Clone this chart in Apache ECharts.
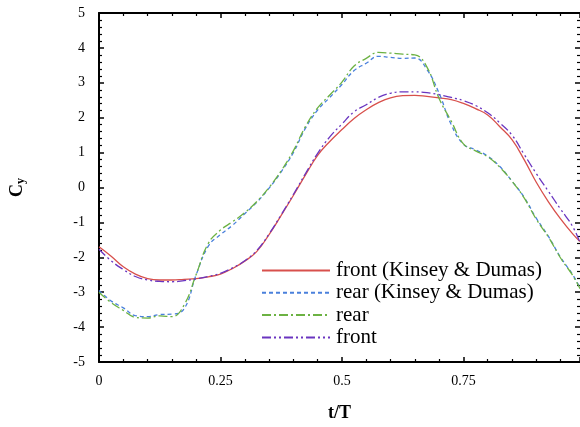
<!DOCTYPE html>
<html>
<head>
<meta charset="utf-8">
<script src="https://cdn.jsdelivr.net/npm/echarts@6/dist/echarts.min.js"></script>
<style>
  html, body { margin: 0; padding: 0; background: #fff; }
  #chart { width: 580px; height: 427px; }
</style>
</head>
<body>
<div id="chart"></div>
<script>
// t/T sample positions shared by all curves
const tValues = [0, 0.025, 0.05, 0.075, 0.1, 0.125, 0.15, 0.175, 0.2, 0.225,
  0.25, 0.275, 0.3, 0.325, 0.35, 0.375, 0.4, 0.425, 0.45, 0.475,
  0.5, 0.525, 0.55, 0.575, 0.6, 0.625, 0.65, 0.675, 0.7, 0.725,
  0.75, 0.775, 0.8, 0.825, 0.85, 0.875, 0.9, 0.925, 0.95, 0.975, 0.99];

const frontKD = [-1.70, -1.97, -2.27, -2.48, -2.61, -2.65, -2.65, -2.63, -2.61, -2.56,
  -2.48, -2.32, -2.11, -1.83, -1.35, -0.80, -0.23, 0.36, 0.92, 1.32,
  1.66, 1.98, 2.23, 2.43, 2.57, 2.63, 2.64, 2.61, 2.57, 2.52,
  2.41, 2.26, 2.08, 1.74, 1.37, 0.80, 0.15, -0.41, -0.90, -1.33, -1.55];

const rearKD = [-2.95, -3.25, -3.45, -3.67, -3.70, -3.64, -3.63, -3.48, -2.50, -1.68,
  -1.35, -1.08, -0.75, -0.42, -0.02, 0.45, 1.00, 1.70, 2.22, 2.58,
  2.95, 3.35, 3.56, 3.76, 3.73, 3.70, 3.71, 3.38, 2.70, 1.80,
  1.24, 1.08, 0.90, 0.60, 0.18, -0.28, -0.88, -1.40, -2.00, -2.50, -2.88];

const rear = [-3.00, -3.30, -3.52, -3.72, -3.74, -3.68, -3.70, -3.37, -2.49, -1.60,
  -1.22, -0.98, -0.72, -0.40, 0.00, 0.48, 1.05, 1.75, 2.28, 2.65,
  3.02, 3.48, 3.70, 3.87, 3.85, 3.82, 3.80, 3.45, 2.55, 1.90,
  1.25, 1.05, 0.88, 0.58, 0.18, -0.30, -0.91, -1.42, -2.02, -2.52, -2.90];

const front = [-1.77, -2.10, -2.35, -2.55, -2.65, -2.69, -2.70, -2.67, -2.62, -2.55,
  -2.46, -2.30, -2.10, -1.80, -1.33, -0.78, -0.20, 0.40, 0.98, 1.45,
  1.82, 2.17, 2.37, 2.58, 2.70, 2.74, 2.74, 2.72, 2.66, 2.58,
  2.49, 2.35, 2.14, 1.85, 1.50, 0.95, 0.40, -0.11, -0.62, -1.12, -1.58];

const seriesNames = ['front (Kinsey & Dumas)', 'rear (Kinsey & Dumas)', 'rear', 'front'];
const xTicks = [0, 0.25, 0.5, 0.75];

const serif = '"Liberation Serif", "Times New Roman", serif';

function pairs(vals) {
  return tValues.map((t, i) => [t, vals[i]]);
}

function lineSeries(name, vals, color, dash) {
  return {
    name: name,
    type: 'line',
    data: pairs(vals),
    smooth: 0.45,
    symbol: 'none',
    clip: true,
    itemStyle: { color: color },
    lineStyle: { color: color, width: 1.3, type: dash }
  };
}

const axisCommon = {
  type: 'value',
  axisLine: { show: true, onZero: false, lineStyle: { color: '#000', width: 2 } },
  axisTick: { show: true, inside: true, length: 5, lineStyle: { color: '#000', width: 1.5 } },
  minorTick: { show: true, splitNumber: 5, length: 3, lineStyle: { color: '#000', width: 1.2 } },
  splitLine: { show: false },
  minorSplitLine: { show: false }
};

const chart = echarts.init(document.getElementById('chart'));

chart.setOption({
  backgroundColor: '#fff',
  animation: false,
  grid: { left: 98, right: -1, top: 13, bottom: 65 },
  legend: {
    orient: 'vertical',
    left: 261,
    top: 260,
    padding: 0,
    itemWidth: 68,
    itemHeight: 12,
    itemGap: 1.3,
    data: seriesNames,
    // hide the marker in the middle of each legend line
    itemStyle: { opacity: 0 },
    textStyle: { fontFamily: serif, fontSize: 21, color: '#000', lineHeight: 20, padding: [0, 0, 0, 1] }
  },
  xAxis: [
    Object.assign({}, axisCommon, {
      position: 'bottom',
      min: 0, max: 0.99, interval: 0.25,
      name: 't/T',
      nameLocation: 'middle',
      nameGap: 42,
      nameTextStyle: { fontFamily: serif, fontSize: 18, fontWeight: 'bold', color: '#000' },
      axisLabel: {
        fontFamily: serif, fontSize: 14, color: '#000', margin: 12,
        showMaxLabel: false,
        formatter: v => (xTicks.indexOf(v) >= 0 ? String(v) : '')
      }
    }),
    Object.assign({}, axisCommon, {
      position: 'top',
      min: 0, max: 0.99, interval: 0.25,
      axisLabel: { show: false }
    })
  ],
  yAxis: [
    Object.assign({}, axisCommon, {
      position: 'left',
      min: -5, max: 5, interval: 1,
      name: '{c|C}{s|y}',
      nameLocation: 'middle',
      nameRotate: 90,
      nameGap: 72,
      nameTextStyle: {
        rich: {
          c: { fontFamily: serif, fontSize: 18, fontWeight: 'bold', color: '#000' },
          s: { fontFamily: serif, fontSize: 12, fontWeight: 'bold', color: '#000', padding: [8, 0, 0, 0] }
        }
      },
      axisLabel: { fontFamily: serif, fontSize: 14, color: '#000', margin: 14 }
    }),
    Object.assign({}, axisCommon, {
      position: 'right',
      min: -5, max: 5, interval: 1,
      axisLine: { show: true, onZero: false, lineStyle: { color: '#000', width: 1 } },
      axisLabel: { show: false }
    })
  ],
  series: [
    lineSeries(seriesNames[0], frontKD, '#d8504c', 'solid'),
    lineSeries(seriesNames[1], rearKD, '#4a80dc', [4, 3]),
    lineSeries(seriesNames[2], rear, '#6cb243', [9, 3, 2, 3]),
    lineSeries(seriesNames[3], front, '#6a35c0', [9, 3, 2, 3, 2, 3])
  ]
});
</script>
</body>
</html>
